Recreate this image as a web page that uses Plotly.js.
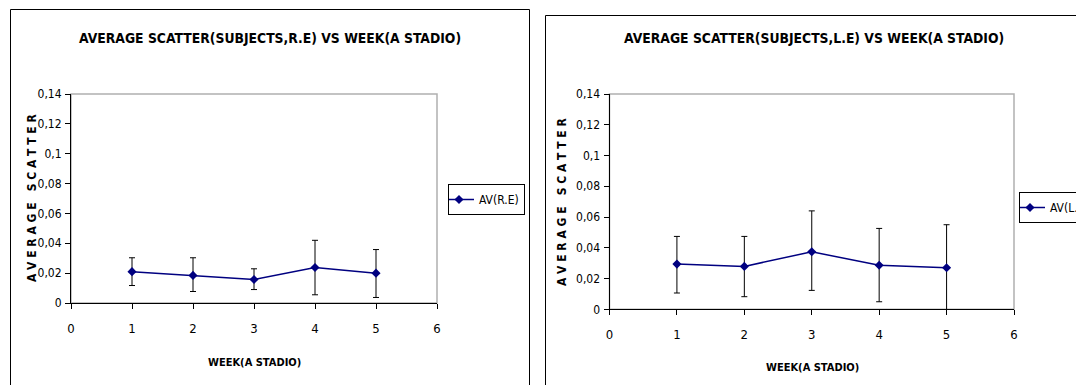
<!DOCTYPE html>
<html>
<head>
<meta charset="utf-8">
<script src="https://cdn.plot.ly/plotly-3.0.1.min.js"></script>
<style>
html,body{margin:0;padding:0;background:#fff;}
#chart{width:1076px;height:385px;}
</style>
</head>
<body>
<div id="chart"></div>
<script>
// ---- data ----
var weeks = [1, 2, 3, 4, 5];
var avRE = [0.021, 0.0185, 0.0157, 0.0238, 0.020];
var avREerrPlus = [0.0093, 0.0118, 0.0072, 0.0182, 0.0158];
var avREerrMinus = [0.0093, 0.0108, 0.0067, 0.0183, 0.0163];
var avLE = [0.0294, 0.0279, 0.0374, 0.0286, 0.0270];
var avLEerrPlus = [0.0180, 0.0195, 0.0266, 0.0240, 0.0280];
var avLEerrMinus = [0.0188, 0.0197, 0.0251, 0.0237, 0.0279];
var xTickVals = [0, 1, 2, 3, 4, 5, 6];
var yTickVals = [0, 0.02, 0.04, 0.06, 0.08, 0.1, 0.12, 0.14];
var yTickText = ['0', '0,02', '0,04', '0,06', '0,08', '0,1', '0,12', '0,14'];
var titleRE = 'AVERAGE SCATTER(SUBJECTS,R.E) VS WEEK(A STADIO)';
var titleLE = 'AVERAGE SCATTER(SUBJECTS,L.E) VS WEEK(A STADIO)';
var xTitle = 'WEEK(A STADIO)';
var yTitle = 'A V E R A G E   S C A T T E R';
var nameRE = 'AV(R.E)';
var nameLE = 'AV(L.E)';

var W = 1076, H = 385;
function px(x){ return x / W; }
function py(y){ return 1 - y / H; }

var FONT = '"DejaVu Sans Condensed", "Liberation Sans Narrow", Arial, sans-serif';
var navy = '#000080';

function trace(y, ep, em, name, xa, ya, lg){
  return {
    x: weeks, y: y, name: name, type: 'scatter', mode: 'lines+markers',
    xaxis: xa, yaxis: ya, legend: lg,
    line: {color: navy, width: 1.5},
    marker: {symbol: 'diamond', size: 7, color: navy},
    error_y: {type: 'data', symmetric: false, array: ep, arrayminus: em,
              color: '#000000', thickness: 1, width: 3}
  };
}

var data = [
  trace(avRE, avREerrPlus, avREerrMinus, nameRE, 'x', 'y', 'legend'),
  trace(avLE, avLEerrPlus, avLEerrMinus, nameLE, 'x2', 'y2', 'legend2')
];

function xaxis(d, anchor){
  return {
    domain: d, anchor: anchor, range: [0, 6], tickvals: xTickVals,
    showgrid: false, zeroline: false, showline: true, linecolor: '#000', linewidth: 1,
    ticks: 'outside', ticklen: 5, tickcolor: '#000', ticklabelstandoff: 8,
    tickfont: {family: FONT, size: 13, color: '#000'},
    fixedrange: true
  };
}
function yaxis(d, anchor){
  return {
    domain: d, anchor: anchor, range: [0, 0.14], tickvals: yTickVals, ticktext: yTickText,
    showgrid: false, zeroline: false, showline: true, linecolor: '#000', linewidth: 1,
    ticks: 'outside', ticklen: 5, tickcolor: '#000', ticklabelstandoff: 1,
    tickfont: {family: FONT, size: 12, color: '#000'},
    fixedrange: true
  };
}

function ann(text, x, y, size, angle){
  return {text: text, xref: 'paper', yref: 'paper', x: px(x), y: py(y),
          xanchor: 'center', yanchor: 'middle', showarrow: false, textangle: angle || 0,
          font: {family: FONT, size: size, color: '#000', weight: 'bold'}};
}

var layout = {
  width: W, height: H,
  margin: {l: 0, r: 0, t: 0, b: 0, autoexpand: false},
  paper_bgcolor: '#fff', plot_bgcolor: '#fff',
  showlegend: true,
  xaxis: xaxis([px(71), px(437)], 'y'),
  yaxis: yaxis([py(303), py(94)], 'x'),
  xaxis2: xaxis([px(609.5), px(1014)], 'y2'),
  yaxis2: yaxis([py(309.3), py(94)], 'x2'),
  legend: {x: px(448), y: py(184), xanchor: 'left', yanchor: 'top',
           bordercolor: '#000', borderwidth: 1, bgcolor: '#fff', indentation: -10,
           font: {family: FONT, size: 12, color: '#000'}, itemwidth: 30},
  legend2: {x: px(1019), y: py(192), xanchor: 'left', yanchor: 'top',
           bordercolor: '#000', borderwidth: 1, bgcolor: '#fff', indentation: -10,
           font: {family: FONT, size: 12, color: '#000'}, itemwidth: 30},
  annotations: [
    ann(titleRE, 270, 38, 13.8),
    ann(titleLE, 814, 38, 13.8),
    ann(xTitle, 254, 362, 11),
    ann(xTitle, 812, 367, 11),
    ann(yTitle, 32, 198, 12, -90),
    ann(yTitle, 562, 202, 12, -90)
  ],
  shapes: [
    {type: 'rect', xref: 'paper', yref: 'paper', x0: px(10.5), x1: px(529.5), y0: -0.2, y1: py(9.5),
     line: {color: '#000', width: 1}, layer: 'below'},
    {type: 'rect', xref: 'paper', yref: 'paper', x0: px(545.5), x1: 1.2, y0: -0.2, y1: py(15.5),
     line: {color: '#000', width: 1}, layer: 'below'},
    {type: 'rect', xref: 'paper', yref: 'paper', x0: px(71), x1: px(437), y0: py(303), y1: py(94),
     line: {color: '#b0b0b0', width: 1.5}, layer: 'below'},
    {type: 'rect', xref: 'paper', yref: 'paper', x0: px(609.5), x1: px(1014), y0: py(309.3), y1: py(94),
     line: {color: '#b0b0b0', width: 1.5}, layer: 'below'}
  ]
};

Plotly.newPlot('chart', data, layout, {displayModeBar: false, staticPlot: true});
</script>
</body>
</html>
